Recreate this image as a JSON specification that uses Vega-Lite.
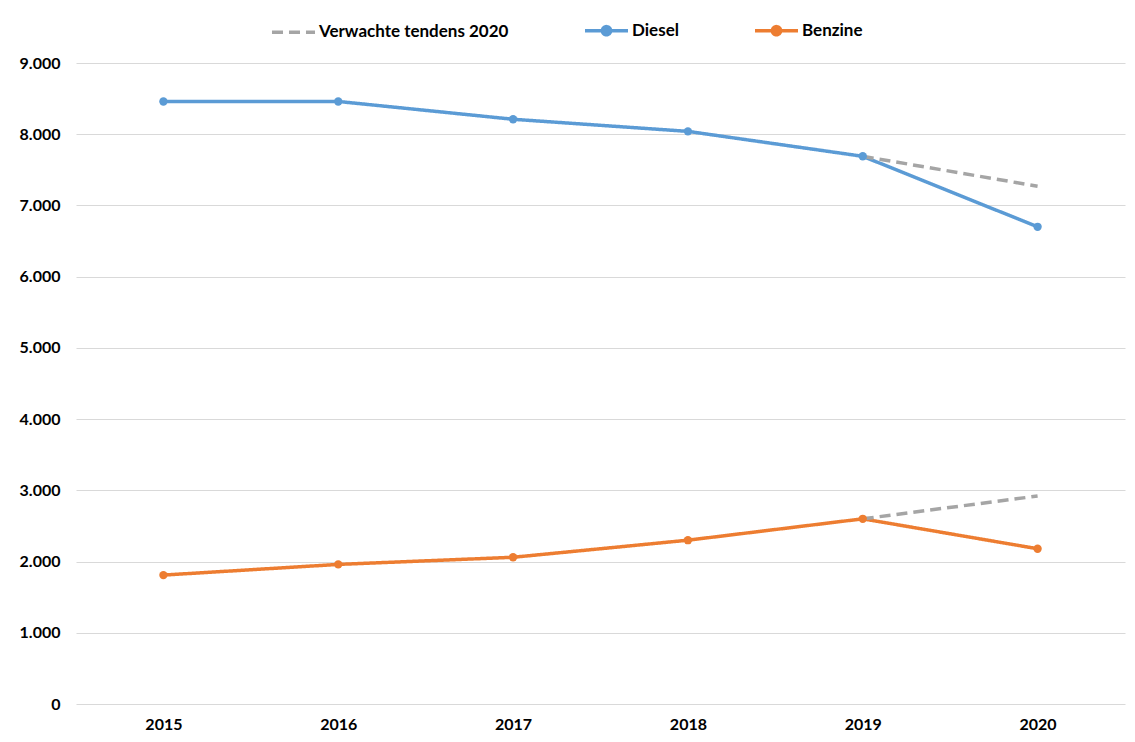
{
  "$schema": "https://vega.github.io/schema/vega-lite/v6.json",
  "width": 1049,
  "height": 641,
  "autosize": {"type": "none"},
  "padding": {"left": 76, "top": 63, "right": 10, "bottom": 38},
  "background": "white",
  "config": {
    "locale": {"number": {"decimal": ",", "thousands": ".", "grouping": [3], "currency": ["€", ""]}},
    "view": {"stroke": null},
    "font": "Lato"
  },
  "data": {
    "values": [
      {"jaar": "2015", "waarde": 8460, "reeks": "Diesel", "groep": "Diesel"},
      {"jaar": "2016", "waarde": 8460, "reeks": "Diesel", "groep": "Diesel"},
      {"jaar": "2017", "waarde": 8210, "reeks": "Diesel", "groep": "Diesel"},
      {"jaar": "2018", "waarde": 8040, "reeks": "Diesel", "groep": "Diesel"},
      {"jaar": "2019", "waarde": 7690, "reeks": "Diesel", "groep": "Diesel"},
      {"jaar": "2020", "waarde": 6700, "reeks": "Diesel", "groep": "Diesel"},
      {"jaar": "2015", "waarde": 1810, "reeks": "Benzine", "groep": "Benzine"},
      {"jaar": "2016", "waarde": 1960, "reeks": "Benzine", "groep": "Benzine"},
      {"jaar": "2017", "waarde": 2060, "reeks": "Benzine", "groep": "Benzine"},
      {"jaar": "2018", "waarde": 2300, "reeks": "Benzine", "groep": "Benzine"},
      {"jaar": "2019", "waarde": 2600, "reeks": "Benzine", "groep": "Benzine"},
      {"jaar": "2020", "waarde": 2180, "reeks": "Benzine", "groep": "Benzine"},
      {"jaar": "2019", "waarde": 7690, "reeks": "Verwachte tendens 2020", "groep": "Trend diesel"},
      {"jaar": "2020", "waarde": 7270, "reeks": "Verwachte tendens 2020", "groep": "Trend diesel"},
      {"jaar": "2019", "waarde": 2600, "reeks": "Verwachte tendens 2020", "groep": "Trend benzine"},
      {"jaar": "2020", "waarde": 2920, "reeks": "Verwachte tendens 2020", "groep": "Trend benzine"}
    ]
  },
  "encoding": {
    "x": {
      "field": "jaar", "type": "ordinal",
      "scale": {"type": "point", "padding": 0.5},
      "axis": {
        "title": null, "labelAngle": 0, "domain": false, "ticks": false,
        "labelFont": "Lato", "labelFontSize": 16, "labelFontWeight": "bold",
        "labelColor": "#000000", "labelPadding": 12
      }
    },
    "y": {
      "field": "waarde", "type": "quantitative",
      "scale": {"domain": [0, 9000], "nice": false},
      "axis": {
        "title": null, "values": [0, 1000, 2000, 3000, 4000, 5000, 6000, 7000, 8000, 9000],
        "format": ",d", "domain": false, "ticks": false,
        "labelFont": "Lato", "labelFontSize": 16, "labelFontWeight": "bold",
        "labelColor": "#000000", "labelPadding": 16,
        "gridColor": "#d9d9d9", "gridWidth": 1
      }
    }
  },
  "layer": [
    {
      "mark": {"type": "line", "strokeWidth": 3.5},
      "encoding": {
        "detail": {"field": "groep"},
        "color": {
          "field": "reeks", "type": "nominal",
          "scale": {"domain": ["Verwachte tendens 2020", "Diesel", "Benzine"], "range": ["#a5a5a5", "#5b9bd5", "#ed7d31"]},
          "legend": {
            "orient": "none", "legendX": 194, "legendY": -56, "direction": "horizontal",
            "title": null, "labelFont": "Lato", "labelFontSize": 17, "labelFontWeight": "bold",
            "labelColor": "#000000", "columnPadding": 68, "labelOffset": 2, "labelLimit": 400,
            "symbolType": "M-1,0H1", "symbolSize": 1850, "symbolStrokeWidth": 3.5,
            "encode": {
              "symbols": {
                "update": {
                  "shape": [
                    {"test": "datum.value === 'Verwachte tendens 2020'", "value": "M-1,0H1"},
                    {"value": "M-1,0H1M0.19,0A0.19,0.19,0,1,1,-0.19,0A0.19,0.19,0,1,1,0.19,0"}
                  ],
                  "fill": [
                    {"test": "datum.value === 'Verwachte tendens 2020'", "value": "transparent"},
                    {"scale": "color", "field": "value"}
                  ]
                }
              }
            }
          }
        },
        "strokeDash": {
          "field": "reeks", "type": "nominal",
          "scale": {"domain": ["Verwachte tendens 2020", "Diesel", "Benzine"], "range": [[11, 6], [1, 0], [1, 0]]},
          "legend": null
        }
      }
    },
    {
      "transform": [{"filter": "datum.reeks !== 'Verwachte tendens 2020'"}],
      "mark": {"type": "point", "filled": true, "opacity": 1, "size": 70},
      "encoding": {
        "color": {"field": "reeks", "type": "nominal", "legend": null}
      }
    }
  ]
}
